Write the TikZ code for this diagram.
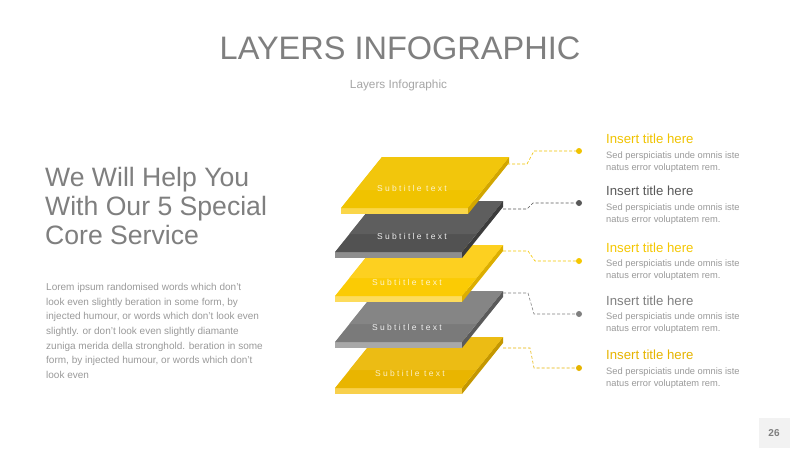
\documentclass[tikz,border=0pt]{standalone}
\usepackage{fontspec}
\setmainfont{Liberation Sans}
\definecolor{ttl}{HTML}{7F7F7F}
\definecolor{sub}{HTML}{A6A6A6}
\definecolor{body}{HTML}{9A9A9A}
\definecolor{yA}{HTML}{F0C300}
\definecolor{gA}{HTML}{595959}
\definecolor{yB}{HTML}{F5C700}
\definecolor{gB}{HTML}{808080}
\definecolor{yC}{HTML}{E6B400}
\definecolor{pgbg}{HTML}{F2F2F2}
% layer colours
\definecolor{l1top}{HTML}{F0C300}\definecolor{l1in}{HTML}{F2C60C}\definecolor{l1fr}{HTML}{FAD649}\definecolor{l1sd}{HTML}{D2A600}\definecolor{l1tx}{HTML}{FCF2CC}
\definecolor{l2top}{HTML}{525252}\definecolor{l2in}{HTML}{5E5E5E}\definecolor{l2fr}{HTML}{8E8E8E}\definecolor{l2sd}{HTML}{3C3C3C}\definecolor{l2tx}{HTML}{EEEEEE}
\definecolor{l3top}{HTML}{FBCB04}\definecolor{l3in}{HTML}{FDD020}\definecolor{l3fr}{HTML}{FDDC5C}\definecolor{l3sd}{HTML}{DCAE00}\definecolor{l3tx}{HTML}{FDF4D0}
\definecolor{l4top}{HTML}{7A7A7A}\definecolor{l4in}{HTML}{858585}\definecolor{l4fr}{HTML}{A8A8A8}\definecolor{l4sd}{HTML}{5A5A5A}\definecolor{l4tx}{HTML}{EFEFEF}
\definecolor{l5top}{HTML}{E9B500}\definecolor{l5in}{HTML}{ECBC14}\definecolor{l5fr}{HTML}{F8D04C}\definecolor{l5sd}{HTML}{C49700}\definecolor{l5tx}{HTML}{FBEFC4}
\newcommand\drawlayer[3]{%
  % #1 x(BL), #2 y(top), #3 colour prefix
  \fill[#3sd] (#1+127,#2+51) -- (#1+168,#2) -- (#1+168,#2+6) -- (#1+127,#2+57) -- cycle;
  \fill[#3fr] (#1,#2+51) -- (#1+127,#2+51) -- (#1+127,#2+57) -- (#1,#2+57) -- cycle;
  \fill[#3top] (#1,#2+51) -- (#1+41,#2) -- (#1+168,#2) -- (#1+127,#2+51) -- cycle;
  \fill[#3in] (#1+41,#2) -- (#1+168,#2) -- (#1+141,#2+33) -- (#1+14.5,#2+33) -- cycle;
}
\tikzset{
  subtxt/.style={inner sep=0pt, font=\fontsize{8.5}{9}\selectfont\addfontfeature{LetterSpace=27}},
  conn/.style={line width=0.6pt, dash pattern=on 3pt off 2pt},
  dotn/.style={circle, inner sep=0pt, minimum size=6pt},
  rtitle/.style={anchor=base west, inner sep=0pt, font=\fontsize{13.2}{15}\selectfont},
  rbody/.style={anchor=north west, inner sep=0pt, align=left, text=body, font=\fontsize{9.3}{12}\selectfont},
}
\begin{document}
\begin{tikzpicture}[x=1pt,y=-1pt]
\useasboundingbox (0,0) rectangle (800,450);
\fill[white] (0,0) rectangle (800,450);

% titles
\node[inner sep=0pt, text=ttl, font=\fontsize{32.5}{36}\selectfont] (title) at (400,48) {LAYERS INFOGRAPHIC};
\node[inner sep=0pt, text=sub, font=\fontsize{11.8}{14}\selectfont] (subtitle) at (398.5,85) {Layers Infographic};

% left heading
\node[anchor=north west, inner sep=0pt, align=left, text=ttl, font=\fontsize{26.6}{29.2}\selectfont] (head) at (45,167) {We Will Help You\\With Our 5 Special\\Core Service};
\node[anchor=north west, inner sep=0pt, align=left, text=body, font=\fontsize{10}{14.7}\selectfont] (para) at (46,283) {Lorem ipsum randomised words which don't\\look even slightly beration in some form, by\\injected humour, or words which don't look even\\slightly. or don't look even slightly diamante\\zuniga merida della stronghold. beration in some\\form, by injected humour, or words which don't\\look even};

% layers (bottom first)
\drawlayer{335}{337}{l5}
\node[subtxt, text=l5tx] (t5) at (410,373) {Subtitle text};
\drawlayer{335}{291}{l4}
\node[subtxt, text=l4tx] (t4) at (407,327) {Subtitle text};
\drawlayer{335}{245}{l3}
\node[subtxt, text=l3tx] (t3) at (407,282) {Subtitle text};
\drawlayer{335}{201}{l2}
\node[subtxt, text=l2tx] (t2) at (412,236) {Subtitle text};
\drawlayer{341}{157}{l1}
\node[subtxt, text=l1tx] (t1) at (412,188) {Subtitle text};

% connectors
\node[dotn, fill=yA] (d1) at (579,151) {};
\node[dotn, fill=gA] (d2) at (579,203) {};
\node[dotn, fill=yB] (d3) at (579,261) {};
\node[dotn, fill=gB] (d4) at (579,314) {};
\node[dotn, fill=yC] (d5) at (579,368) {};
\coordinate (s1) at (507,164); \coordinate (a1) at (527,164); \coordinate (b1) at (534,151);
\coordinate (s2) at (503,209); \coordinate (a2) at (527,209); \coordinate (b2) at (533,203);
\coordinate (s3) at (503,251); \coordinate (a3) at (528,251); \coordinate (b3) at (535,261);
\coordinate (s4) at (503,293); \coordinate (a4) at (528,293); \coordinate (b4) at (534,314);
\coordinate (s5) at (503,348); \coordinate (a5) at (530,348); \coordinate (b5) at (534,368);
\draw[conn, yA] (s1) -- (a1) -- (b1) -- (d1.center);
\draw[conn, gA] (s2) -- (a2) -- (b2) -- (d2.center);
\draw[conn, yB] (s3) -- (a3) -- (b3) -- (d3.center);
\draw[conn, gB] (s4) -- (a4) -- (b4) -- (d4.center);
\draw[conn, yC] (s5) -- (a5) -- (b5) -- (d5.center);

% right texts
\node[rtitle, text=yA] (r1) at (606,143) {Insert title here};
\node[rbody] (b1t) at (606,152) {Sed perspiciatis unde omnis iste\\natus error voluptatem rem.};
\node[rtitle, text=gA] (r2) at (606,195) {Insert title here};
\node[rbody] (b2t) at (606,204) {Sed perspiciatis unde omnis iste\\natus error voluptatem rem.};
\node[rtitle, text=yB] (r3) at (606,252) {Insert title here};
\node[rbody] (b3t) at (606,260) {Sed perspiciatis unde omnis iste\\natus error voluptatem rem.};
\node[rtitle, text=gB] (r4) at (606,305) {Insert title here};
\node[rbody] (b4t) at (606,313) {Sed perspiciatis unde omnis iste\\natus error voluptatem rem.};
\node[rtitle, text=yC] (r5) at (606,359) {Insert title here};
\node[rbody] (b5t) at (606,368) {Sed perspiciatis unde omnis iste\\natus error voluptatem rem.};

% page number
\node[fill=pgbg, minimum width=31pt, minimum height=30pt, inner sep=0pt, text=ttl, font=\fontsize{10}{11}\selectfont\bfseries] (pg) at (774,433) {26};
\end{tikzpicture}
\end{document}
